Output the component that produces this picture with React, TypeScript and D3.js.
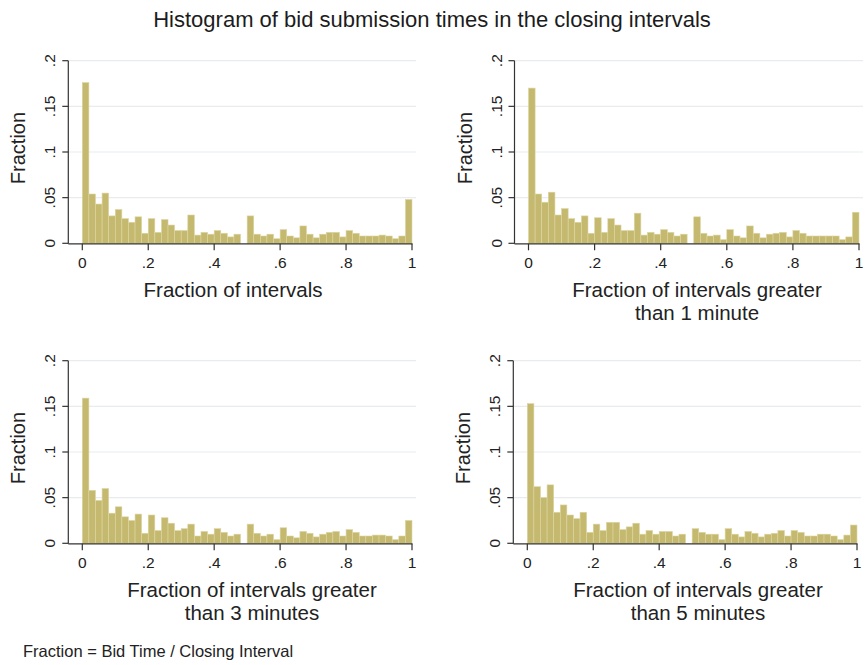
import * as d3 from 'd3';

const W = 865;
const H = 665;

// fraction per bin, 50 bins of width .02
const allIntervals = [
  0.176, 0.054, 0.043, 0.055, 0.030, 0.037, 0.027, 0.023, 0.029, 0.011,
  0.027, 0.012, 0.026, 0.020, 0.014, 0.014, 0.031, 0.009, 0.012, 0.010,
  0.014, 0.011, 0.007, 0.010, 0, 0.030, 0.010, 0.008, 0.010, 0.005,
  0.015, 0.008, 0.006, 0.019, 0.010, 0.006, 0.010, 0.012, 0.012, 0.007,
  0.014, 0.011, 0.008, 0.008, 0.008, 0.009, 0.008, 0.005, 0.008, 0.048,
];
const over1min = [
  0.170, 0.054, 0.045, 0.056, 0.031, 0.038, 0.027, 0.023, 0.030, 0.011,
  0.028, 0.012, 0.027, 0.020, 0.014, 0.014, 0.033, 0.009, 0.012, 0.010,
  0.015, 0.012, 0.008, 0.010, 0, 0.029, 0.011, 0.008, 0.009, 0.004,
  0.015, 0.008, 0.006, 0.019, 0.011, 0.006, 0.010, 0.011, 0.012, 0.007,
  0.014, 0.011, 0.008, 0.008, 0.008, 0.008, 0.008, 0.004, 0.007, 0.034,
];
const over3min = [
  0.159, 0.058, 0.047, 0.060, 0.033, 0.040, 0.029, 0.025, 0.032, 0.011,
  0.031, 0.014, 0.028, 0.022, 0.014, 0.016, 0.021, 0.008, 0.013, 0.010,
  0.016, 0.012, 0.008, 0.010, 0, 0.021, 0.011, 0.008, 0.010, 0.004,
  0.017, 0.008, 0.006, 0.013, 0.011, 0.007, 0.010, 0.012, 0.013, 0.008,
  0.015, 0.012, 0.008, 0.008, 0.009, 0.009, 0.008, 0.004, 0.008, 0.025,
];
const over5min = [
  0.153, 0.062, 0.050, 0.064, 0.034, 0.042, 0.031, 0.027, 0.034, 0.012,
  0.021, 0.014, 0.023, 0.023, 0.015, 0.018, 0.022, 0.010, 0.014, 0.010,
  0.013, 0.013, 0.008, 0.010, 0, 0.016, 0.012, 0.010, 0.010, 0.004,
  0.016, 0.010, 0.007, 0.013, 0.011, 0.007, 0.010, 0.011, 0.014, 0.008,
  0.014, 0.012, 0.008, 0.008, 0.010, 0.010, 0.008, 0.004, 0.009, 0.020,
];

const xTicks = [0, 0.2, 0.4, 0.6, 0.8, 1];
const xTickLabels = ['0', '.2', '.4', '.6', '.8', '1'];
const yTicks = [0, 0.05, 0.1, 0.15, 0.2];
const yTickLabels = ['0', '.05', '.1', '.15', '.2'];

const mainTitle = 'Histogram of bid submission times in the closing intervals';
const yTitle = 'Fraction';
const note = 'Fraction = Bid Time / Closing Interval';

const panels = [
  { data: allIntervals, title: ['Fraction of intervals'], titleX: 233, x0: 82.3, x1: 412, base: 243.3, top: 60.7 },
  { data: over1min, title: ['Fraction of intervals greater', 'than 1 minute'], titleX: 697, x0: 528.5, x1: 859, base: 243.3, top: 60.7 },
  { data: over3min, title: ['Fraction of intervals greater', 'than 3 minutes'], titleX: 252, x0: 82.3, x1: 412, base: 543.3, top: 360.7 },
  { data: over5min, title: ['Fraction of intervals greater', 'than 5 minutes'], titleX: 698, x0: 527.3, x1: 857, base: 543.3, top: 360.7 },
];

const FONT = '"Liberation Sans", Arial, Helvetica, sans-serif';
const BAR = '#c4b96e';
const BAR_EDGE = '#ddd6a4';
const AXIS = '#333';
const GRID = '#e9ecee';

function Panel({ p }: { p: (typeof panels)[number] }) {
  const x = d3.scaleLinear().domain([0, 1]).range([p.x0, p.x1]);
  const y = d3.scaleLinear().domain([0, 0.2]).range([p.base, p.top]);
  const axisX = p.x0 - 14;
  const binW = 1 / p.data.length;

  return (
    <g>
      {yTicks.slice(1).map((t) => (
        <line key={t} x1={axisX} x2={p.x1 + 4} y1={y(t)} y2={y(t)} stroke={GRID} strokeWidth={1.2} />
      ))}
      {p.data.map((v, i) =>
        v > 0 ? (
          <rect
            key={i}
            x={x(i * binW)}
            width={x(binW) - x(0)}
            y={y(v)}
            height={y(0) - y(v)}
            fill={BAR}
            stroke={BAR_EDGE}
            strokeWidth={0.6}
          />
        ) : null
      )}
      <line x1={axisX} x2={axisX} y1={y(0.2)} y2={y(0) + 0.5} stroke={AXIS} strokeWidth={1.2} />
      <line x1={axisX} x2={p.x1 + 0.5} y1={y(0) + 0.5} y2={y(0) + 0.5} stroke={AXIS} strokeWidth={1.2} />
      {yTicks.map((t, i) => (
        <g key={t}>
          <line x1={axisX - 6} x2={axisX} y1={y(t)} y2={y(t)} stroke={AXIS} strokeWidth={1.2} />
          <text
            transform={`translate(${axisX - 13},${y(t)}) rotate(-90)`}
            textAnchor="middle"
            fontSize={15.5}
            fill="#222"
          >
            {yTickLabels[i]}
          </text>
        </g>
      ))}
      {xTicks.map((t, i) => (
        <g key={t}>
          <line x1={x(t)} x2={x(t)} y1={y(0) + 0.5} y2={y(0) + 7} stroke={AXIS} strokeWidth={1.2} />
          <text x={x(t)} y={y(0) + 25} textAnchor="middle" fontSize={15.5} fill="#222">
            {xTickLabels[i]}
          </text>
        </g>
      ))}
      <text
        transform={`translate(${axisX - 43},${(y(0) + y(0.2)) / 2 - 4}) rotate(-90)`}
        textAnchor="middle"
        fontSize={20}
        fill="#222"
      >
        {yTitle}
      </text>
      {p.title.map((line, i) => (
        <text key={i} x={p.titleX} y={y(0) + 54 + i * 23} textAnchor="middle" fontSize={20.5} fill="#222">
          {line}
        </text>
      ))}
    </g>
  );
}

export default function App() {
  return (
    <svg
      width={W}
      height={H}
      viewBox={`0 0 ${W} ${H}`}
      style={{ position: 'absolute', left: 0, top: 0, background: '#fff' }}
      fontFamily={FONT}
    >
      <rect width={W} height={H} fill="#fff" />
      <text x={432} y={27} textAnchor="middle" fontSize={22} fill="#1c1c1c">
        {mainTitle}
      </text>
      {panels.map((p, i) => (
        <Panel key={i} p={p} />
      ))}
      <text x={23} y={657} fontSize={16.5} fill="#222">
        {note}
      </text>
    </svg>
  );
}
